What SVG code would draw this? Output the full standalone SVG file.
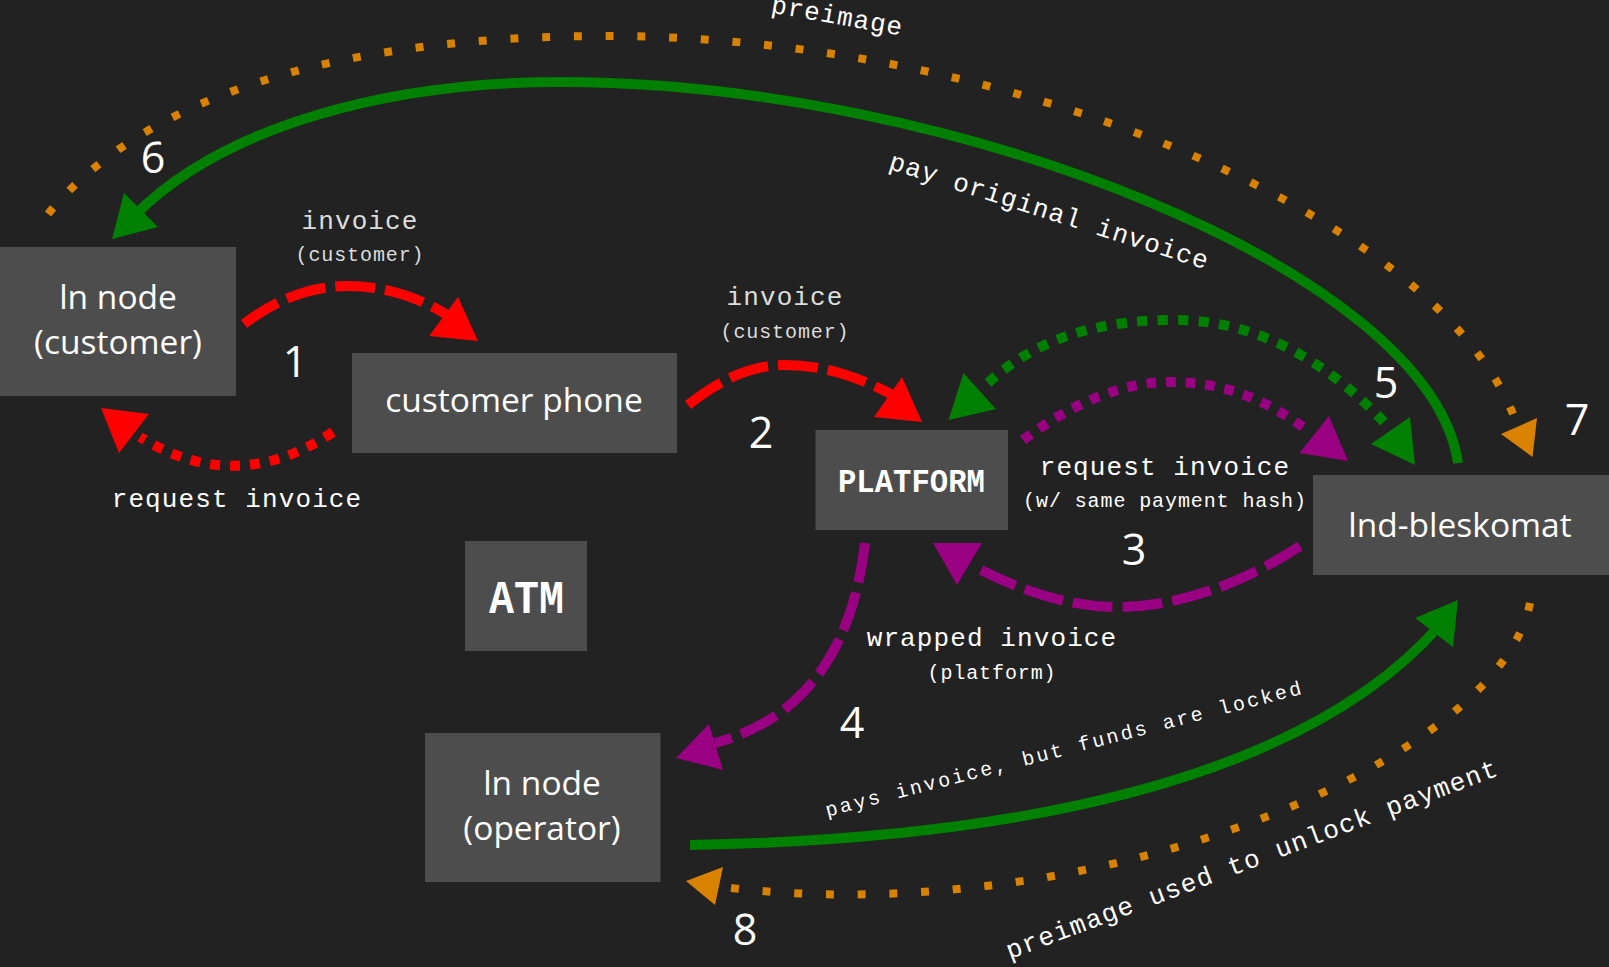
<svg xmlns="http://www.w3.org/2000/svg" width="1609" height="967" viewBox="0 0 1609 967">
<style>
.box{fill:#4d4d4d}
.nt{font-family:"Open Sans","Noto Sans",sans-serif;font-weight:400;font-size:33.5px;fill:#fff;text-anchor:middle}
.logo{font-family:"Liberation Mono",monospace;font-weight:700;fill:#fff}
.num{font-family:"Open Sans","Noto Sans",sans-serif;font-weight:400;font-size:43px;fill:#fff;text-anchor:middle}
.lb{font-family:"Liberation Mono",monospace;font-size:26px;letter-spacing:1.1px;fill:#fff;text-anchor:middle}
.sm{font-family:"Liberation Mono",monospace;font-size:20px;letter-spacing:.9px;fill:#fff;text-anchor:middle}
.dim{fill:#ddd}
.c{fill:none;stroke-width:10}
.dash{stroke-dasharray:40 10}
.dot{stroke-dasharray:10 10}
.fine{stroke-width:8;stroke-dasharray:8 24}
.red{stroke:#f00}.green{stroke:#008000}.purple{stroke:#990082}.orange{stroke:#d98200}
.fr{fill:#f00}.fg{fill:#008000}.fp{fill:#990082}.fo{fill:#d98200}
</style>
<rect width="1609" height="967" fill="#222"/>
<g id="connectors">
<path class="c dash red" d="M244 324C275 300 310 286 348 286C385 286 420 298 447 315"/>
<polygon class="fr" points="458,297 429,336 478,341"/>
<path class="c dot red" d="M333 432Q236 497 140 437"/>
<polygon class="fr" points="101,408 149,414 119,453"/>
<path class="c dash red" d="M688 405C720 380 750 365 785 365C825 365 860 378 893 395"/>
<polygon class="fr" points="902,377 874,417 922,422"/>
<path class="c dot green" pathLength="430" d="M988 383C1040 335 1105 320 1175 320C1260 320 1330 365 1384 422"/>
<polygon class="fg" points="963.5,373 996,409 948.5,420"/>
<polygon class="fg" points="1410,417 1371,444 1415,465"/>
<path class="c dot purple" pathLength="310" d="M1023 440C1070 405 1120 382 1170 382C1225 382 1265 400 1303 427"/>
<polygon class="fp" points="1329,416 1299.5,453 1348,461"/>
<path class="c dash purple" d="M1300 546C1245 582 1180 607 1118 607C1070 607 1025 592 981 570"/>
<polygon class="fp" points="933,543 982,543 957,585"/>
<path class="c dash purple" d="M865 543Q846 707 715 743"/>
<polygon class="fp" points="709,724 676,758 723,770"/>
<path class="c green" d="M690 845C1000 840 1300 785 1440 625"/>
<polygon class="fg" points="1458,600 1415,618 1453,647"/>
<path class="c green" d="M1458 463C1430 270 950 82 561 82C390 82 225 125 135 215"/>
<polygon class="fg" points="124,193 158,227 112,239"/>
<path class="c fine orange" pathLength="1640" d="M48 214C165 72 400 36 607 36C1000 36 1430 210 1513 414"/>
<polygon class="fo" points="1537,418 1501,434 1532.5,457"/>
<path class="c fine orange" pathLength="904" d="M1530 603C1500 760 1100 930 731 888"/>
<polygon class="fo" points="723,867 686,881 715,905"/>
</g>
<g id="node-ln-customer"><rect class="box" x="0" y="247" width="236" height="149"/><text class="nt" x="118" y="309">ln node</text><text class="nt" x="118" y="354">(customer)</text></g>
<g id="node-phone"><rect class="box" x="352" y="353" width="325" height="100"/><text class="nt" x="514" y="412">customer phone</text></g>
<g id="node-platform"><rect class="box" x="815.5" y="430" width="192.5" height="100"/><text class="logo" x="838" y="492" font-size="33" textLength="147" lengthAdjust="spacingAndGlyphs">PLATFORM</text></g>
<g id="node-atm"><rect class="box" x="465" y="541" width="122" height="110"/><text class="logo" x="489" y="613" font-size="46" textLength="75" lengthAdjust="spacingAndGlyphs">ATM</text></g>
<g id="node-lnd-bleskomat"><rect class="box" x="1313" y="475" width="296" height="100"/><text class="nt" x="1460" y="537">lnd-bleskomat</text></g>
<g id="node-ln-operator"><rect class="box" x="425" y="733" width="235.500" height="149"/><text class="nt" x="542" y="795">ln node</text><text class="nt" x="542" y="840">(operator)</text></g>
<g id="labels">
<text class="lb dim" x="360" y="229">invoice</text>
<text class="sm dim" x="360" y="261">(customer)</text>
<text class="lb dim" x="785" y="305">invoice</text>
<text class="sm dim" x="785" y="338">(customer)</text>
<text class="lb" x="237" y="507">request invoice</text>
<text class="lb" x="1165" y="475">request invoice</text>
<text class="sm" x="1165" y="507">(w/ same payment hash)</text>
<text class="lb" x="992" y="646">wrapped invoice</text>
<text class="sm" x="992" y="679">(platform)</text>
<text class="lb" transform="translate(836 24) rotate(10)">preimage</text>
<text class="lb" transform="translate(1047 219) rotate(17.6)">pay original invoice</text>
<text class="sm" style="letter-spacing:2.5px" transform="translate(1066 755) rotate(-14.5)">pays invoice, but funds are locked</text>
<text class="lb" style="letter-spacing:1.3px" transform="translate(1255 867) rotate(-20.6)">preimage used to unlock payment</text>
<text class="num" x="295" y="377">1</text>
<text class="num" x="761" y="448">2</text>
<text class="num" x="1134" y="565">3</text>
<text class="num" x="852" y="738">4</text>
<text class="num" x="1386" y="398">5</text>
<text class="num" x="153" y="173">6</text>
<text class="num" x="1577" y="435">7</text>
<text class="num" x="745" y="945">8</text>
</g>
</svg>
